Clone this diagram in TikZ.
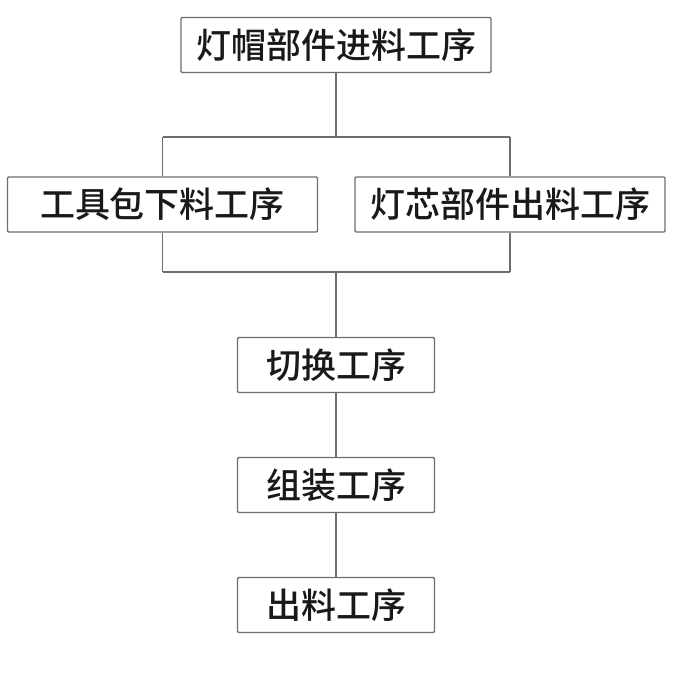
\documentclass[tikz,border=0pt]{standalone}
\usepackage{fontspec}
\newfontfamily\cjk{Noto Sans CJK SC Medium}
\definecolor{linegray}{RGB}{110,110,110}
\definecolor{textdark}{RGB}{25,25,25}
\tikzset{
  procbox/.style={draw=linegray, line width=1.4pt, rounded corners=1.2pt, fill=white,
    minimum height=55pt, inner sep=0pt, font=\cjk\fontsize{35}{35}\selectfont, text=textdark},
  wide/.style={minimum width=310pt},
  narrow/.style={minimum width=197pt},
  conn/.style={draw=linegray, line width=1.3pt}
}
\begin{document}
\begin{tikzpicture}[x=1pt,y=-1pt]
\useasboundingbox (0,0) rectangle (678,678);
\node[procbox,wide] (top) at (336,45) {灯帽部件进料工序};
\node[procbox,wide] (left) at (162.5,204.5) {工具包下料工序};
\node[procbox,wide] (right) at (510,204.5) {灯芯部件出料工序};
\node[procbox,narrow] (sw) at (336,365) {切换工序};
\node[procbox,narrow] (asm) at (336,485) {组装工序};
\node[procbox,narrow] (out) at (336,605) {出料工序};
\coordinate (j1) at (336,137);
\coordinate (j2) at (336,272);
\coordinate (tl) at (left.north |- j1);
\coordinate (tr) at (right.north |- j1);
\coordinate (bl) at (left.south |- j2);
\coordinate (br) at (right.south |- j2);
\draw[conn] (top.south) -- (j1);
\draw[conn] (tl) -- (tr);
\draw[conn] (tl) -- (left.north);
\draw[conn] (tr) -- (right.north);
\draw[conn] (left.south) -- (bl);
\draw[conn] (right.south) -- (br);
\draw[conn] (bl) -- (br);
\draw[conn] (j2) -- (sw.north);
\draw[conn] (sw.south) -- (asm.north);
\draw[conn] (asm.south) -- (out.north);
\end{tikzpicture}
\end{document}
